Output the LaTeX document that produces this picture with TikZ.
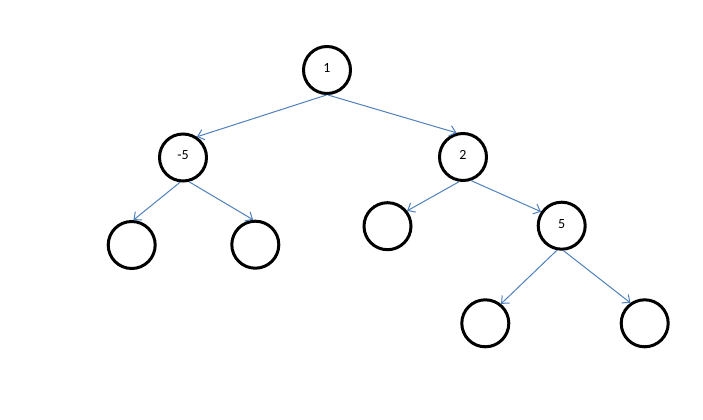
\documentclass[tikz,border=0pt]{standalone}
\usepackage{fontspec}
\setmainfont{Carlito}
\usetikzlibrary{arrows.meta}
\definecolor{edgeblue}{RGB}{79,129,189}
\begin{document}
\begin{tikzpicture}[x=0.75pt,y=-0.75pt,
  tnode/.style={circle,draw=black,line width=2.25pt,minimum size=35.25pt,inner sep=0pt,
    font=\fontsize{10.5pt}{12pt}\selectfont,text depth=3pt},
  tedge/.style={draw=edgeblue,line width=0.75pt,-{Straight Barb[length=4.5pt,width=8pt]}}]
\useasboundingbox[fill=white] (0,0) rectangle (703,420);
\node[tnode] (n1) at (327,70) {1};
\node[tnode] (nm5) at (183,157.5) {-5};
\node[tnode] (n2) at (463,157) {2};
\node[tnode] (ll) at (131.7,245) {};
\node[tnode] (lr) at (255.3,244.7) {};
\node[tnode] (rl) at (387.5,226.2) {};
\node[tnode] (n5) at (561.7,225.7) {5};
\node[tnode] (fl) at (485.3,323.3) {};
\node[tnode] (fr) at (644.7,323.3) {};
\draw[tedge] (n1.269) -- (nm5.56);
\draw[tedge] (n1.272) -- (n2.105);
\draw[tedge] (nm5.263) -- (ll.86);
\draw[tedge] (nm5.284) -- (lr.95);
\draw[tedge] (n2.261) -- (rl.38);
\draw[tedge] (n2.289) -- (n5.146);
\draw[tedge] (n5.259) -- (fl.51);
\draw[tedge] (n5.274) -- (fr.125);
\end{tikzpicture}
\end{document}
